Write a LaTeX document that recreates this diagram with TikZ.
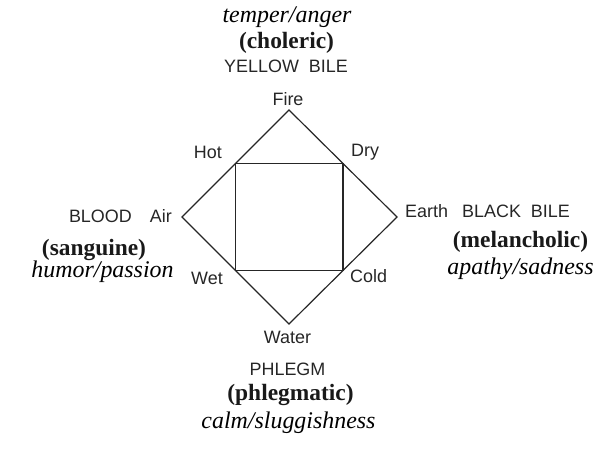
\documentclass[tikz,border=0pt]{standalone}
\usepackage{fontspec}
\setmainfont{Liberation Serif}
\setsansfont{Liberation Sans}
\usetikzlibrary{calc}
\definecolor{inkgray}{gray}{0.15}

\begin{document}
\begin{tikzpicture}[x=1bp,y=-1bp,
  elem/.style={font=\sffamily\fontsize{18}{20}\selectfont,text=inkgray,inner sep=0pt},
  temperament/.style={font=\bfseries\fontsize{23.5}{26}\selectfont,text=black!90,inner sep=0pt},
  mood/.style={font=\itshape\fontsize{24}{26}\selectfont,text=black,inner sep=0pt}]

\useasboundingbox (0,0) rectangle (599,454);

% diamond of the elements
\coordinate (fire) at (289,110);
\coordinate (earth) at (397,217);
\coordinate (water) at (289,324);
\coordinate (air) at (182,217);
\draw[line width=1.2pt,color=inkgray] (fire) -- (earth) -- (water) -- (air) -- cycle;

% square of the qualities
\coordinate (hot) at ($(air)!0.5!(fire)$);
\coordinate (dry) at ($(fire)!0.5!(earth)$);
\coordinate (cold) at ($(earth)!0.5!(water)$);
\coordinate (wet) at ($(water)!0.5!(air)$);
\draw[line width=1.2pt,color=inkgray] (hot) -- (dry) -- (cold) -- (wet) -- cycle;

\node[elem,anchor=base east] (hotlbl) at (222,159) {Hot};
\node[elem,anchor=base west] (drylbl) at (351,157) {Dry};
\node[elem,anchor=base east] (wetlbl) at (223,285) {Wet};
\node[elem,anchor=base west] (coldlbl) at (350,283) {Cold};

% top: choleric
\node[elem,anchor=base] (firelbl) at (288,106) {Fire};
\node[elem,anchor=base] (yellow) at (286,73) {YELLOW\ \ BILE};
\node[temperament,anchor=base] (choleric) at (286.5,49) {(choleric)};
\node[mood,anchor=base] (anger) at (287,23) {temper/anger};

% left: sanguine
\node[elem,anchor=base east] (airlbl) at (172,223) {Air};
\node[elem,anchor=base east] (blood) at (132,223) {BLOOD};
\node[temperament,anchor=base] (sanguine) at (94,256) {(sanguine)};
\node[mood,anchor=base] (passion) at (102.5,278) {humor/passion};

% right: melancholic
\node[elem,anchor=base west] (earthlbl) at (405,218) {Earth};
\node[elem,anchor=base west] (black) at (462,218) {BLACK\ \ BILE};
\node[temperament,anchor=base] (melancholic) at (520.5,248) {(melancholic)};
\node[mood,anchor=base] (sadness) at (520.5,275) {apathy/sadness};

% bottom: phlegmatic
\node[elem,anchor=base] (waterlbl) at (287.5,343) {Water};
\node[elem,anchor=base] (phlegm) at (287.5,375) {PHLEGM};
\node[temperament,anchor=base] (phlegmatic) at (290.5,400) {(phlegmatic)};
\node[mood,anchor=base] (sluggish) at (288.5,428) {calm/sluggishness};

\end{tikzpicture}
\end{document}
